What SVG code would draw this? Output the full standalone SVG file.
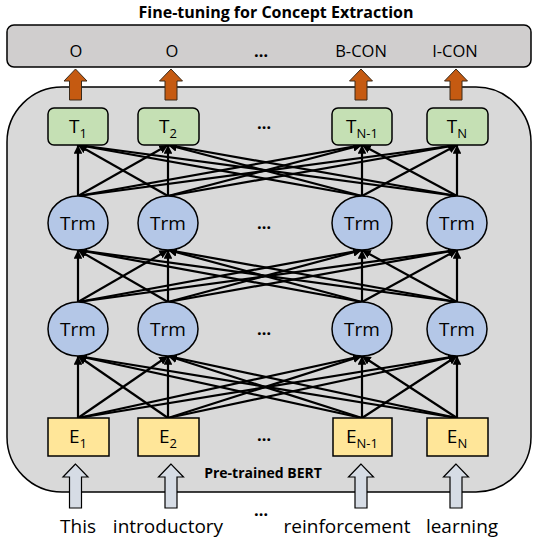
<svg xmlns="http://www.w3.org/2000/svg" xmlns:xlink="http://www.w3.org/1999/xlink" width="537" height="540" viewBox="0 0 537 540">
<defs>
<style>
text{font-family:"Open Sans","DejaVu Sans",sans-serif;fill:#000}
.lbl{font-size:16.5px;text-anchor:middle}
.node{font-size:19px;text-anchor:middle}
.sub{font-size:13px}
.bold{font-weight:bold}
.tbox{fill:#c5e0b4;stroke:#000;stroke-width:1.5}
.ebox{fill:#ffe699;stroke:#000;stroke-width:1.5}
.trm{fill:#b4c7e7;stroke:#000;stroke-width:1.5}
.conn line{stroke:#000;stroke-width:2.2;marker-end:url(#ah)}
.oarr{fill:#c55a11;stroke:#3a2a1a;stroke-width:1}
.garr{fill:#d6dce5;stroke:#000;stroke-width:1.2}
</style>
<marker id="ah" viewBox="0 0 10 10" refX="10" refY="5" markerWidth="4" markerHeight="4" orient="auto" markerUnits="strokeWidth">
<path d="M0,0 L10,5 L0,10 z" fill="#000"/>
</marker>
<path id="oa" d="M0,69 L-11.5,81 L-6,81 L-6,100 L6,100 L6,81 L11.5,81 Z"/>
<path id="ga" d="M0,464 L-12.5,477 L-6,477 L-6,508 L6,508 L6,477 L12.5,477 Z"/>
</defs>
<rect width="537" height="540" fill="#fff"/>
<text x="276" y="18" class="bold" style="font-size:16px;text-anchor:middle">Fine-tuning for Concept Extraction</text>
<g id="output-box">
<rect x="7" y="25" width="524" height="42" rx="7" fill="#d0cece" stroke="#000" stroke-width="1.5"/>
<text x="76" y="57" class="lbl">O</text>
<text x="172" y="57" class="lbl">O</text>
<text x="261" y="57" class="lbl bold">…</text>
<text x="361" y="57" class="lbl">B-CON</text>
<text x="455" y="57" class="lbl">I-CON</text>
</g>
<g id="bert">
<rect x="7" y="87" width="524" height="405" rx="55" fill="#d9d9d9" stroke="#000" stroke-width="1.5"/>
<text x="263" y="478" class="bold" style="font-size:14px;text-anchor:middle">Pre-trained BERT</text>
</g>
<g id="output-arrows">
<use xlink:href="#oa" x="75.5" class="oarr"/>
<use xlink:href="#oa" x="171" class="oarr"/>
<use xlink:href="#oa" x="361" class="oarr"/>
<use xlink:href="#oa" x="456" class="oarr"/>
</g>
<g id="connectors" class="conn">
<line x1="78" y1="418" x2="78" y2="356"/><line x1="78" y1="418" x2="168" y2="356"/><line x1="78" y1="418" x2="362" y2="356"/><line x1="78" y1="418" x2="457" y2="356"/>
<line x1="168" y1="418" x2="78" y2="356"/><line x1="168" y1="418" x2="168" y2="356"/><line x1="168" y1="418" x2="362" y2="356"/><line x1="168" y1="418" x2="457" y2="356"/>
<line x1="362" y1="418" x2="78" y2="356"/><line x1="362" y1="418" x2="168" y2="356"/><line x1="362" y1="418" x2="362" y2="356"/><line x1="362" y1="418" x2="457" y2="356"/>
<line x1="457" y1="418" x2="78" y2="356"/><line x1="457" y1="418" x2="168" y2="356"/><line x1="457" y1="418" x2="362" y2="356"/><line x1="457" y1="418" x2="457" y2="356"/>
<line x1="78" y1="302" x2="78" y2="250"/><line x1="78" y1="302" x2="168" y2="250"/><line x1="78" y1="302" x2="362" y2="250"/><line x1="78" y1="302" x2="457" y2="250"/>
<line x1="168" y1="302" x2="78" y2="250"/><line x1="168" y1="302" x2="168" y2="250"/><line x1="168" y1="302" x2="362" y2="250"/><line x1="168" y1="302" x2="457" y2="250"/>
<line x1="362" y1="302" x2="78" y2="250"/><line x1="362" y1="302" x2="168" y2="250"/><line x1="362" y1="302" x2="362" y2="250"/><line x1="362" y1="302" x2="457" y2="250"/>
<line x1="457" y1="302" x2="78" y2="250"/><line x1="457" y1="302" x2="168" y2="250"/><line x1="457" y1="302" x2="362" y2="250"/><line x1="457" y1="302" x2="457" y2="250"/>
<line x1="78" y1="196" x2="78" y2="145"/><line x1="78" y1="196" x2="168" y2="145"/><line x1="78" y1="196" x2="362" y2="145"/><line x1="78" y1="196" x2="457" y2="145"/>
<line x1="168" y1="196" x2="78" y2="145"/><line x1="168" y1="196" x2="168" y2="145"/><line x1="168" y1="196" x2="362" y2="145"/><line x1="168" y1="196" x2="457" y2="145"/>
<line x1="362" y1="196" x2="78" y2="145"/><line x1="362" y1="196" x2="168" y2="145"/><line x1="362" y1="196" x2="362" y2="145"/><line x1="362" y1="196" x2="457" y2="145"/>
<line x1="457" y1="196" x2="78" y2="145"/><line x1="457" y1="196" x2="168" y2="145"/><line x1="457" y1="196" x2="362" y2="145"/><line x1="457" y1="196" x2="457" y2="145"/>
</g>
<g id="T1"><rect x="48" y="108" width="60" height="37" rx="6" class="tbox"/><text x="78" y="133" class="node">T<tspan class="sub" dy="5">1</tspan></text></g>
<g id="T2"><rect x="138" y="108" width="61" height="37" rx="6" class="tbox"/><text x="168" y="133" class="node">T<tspan class="sub" dy="5">2</tspan></text></g>
<g id="TN-1"><rect x="332" y="108" width="60" height="37" rx="6" class="tbox"/><text x="362" y="133" class="node">T<tspan class="sub" dy="5">N-1</tspan></text></g>
<g id="TN"><rect x="427" y="108" width="61" height="37" rx="6" class="tbox"/><text x="457" y="133" class="node">T<tspan class="sub" dy="5">N</tspan></text></g>
<g id="Trm-2-1"><ellipse cx="78" cy="223" rx="30" ry="27" class="trm"/><text x="78" y="230" class="node">Trm</text></g>
<g id="Trm-2-2"><ellipse cx="168" cy="223" rx="30" ry="27" class="trm"/><text x="168" y="230" class="node">Trm</text></g>
<g id="Trm-2-N-1"><ellipse cx="362" cy="223" rx="30" ry="27" class="trm"/><text x="362" y="230" class="node">Trm</text></g>
<g id="Trm-2-N"><ellipse cx="457" cy="223" rx="30" ry="27" class="trm"/><text x="457" y="230" class="node">Trm</text></g>
<g id="Trm-1-1"><ellipse cx="78" cy="329" rx="30" ry="27" class="trm"/><text x="78" y="336" class="node">Trm</text></g>
<g id="Trm-1-2"><ellipse cx="168" cy="329" rx="30" ry="27" class="trm"/><text x="168" y="336" class="node">Trm</text></g>
<g id="Trm-1-N-1"><ellipse cx="362" cy="329" rx="30" ry="27" class="trm"/><text x="362" y="336" class="node">Trm</text></g>
<g id="Trm-1-N"><ellipse cx="457" cy="329" rx="30" ry="27" class="trm"/><text x="457" y="336" class="node">Trm</text></g>
<g id="E1"><rect x="48" y="418" width="61" height="38" class="ebox"/><text x="78" y="443" class="node">E<tspan class="sub" dy="5">1</tspan></text></g>
<g id="E2"><rect x="138" y="418" width="61" height="38" class="ebox"/><text x="168" y="443" class="node">E<tspan class="sub" dy="5">2</tspan></text></g>
<g id="EN-1"><rect x="333" y="418" width="59" height="38" class="ebox"/><text x="362" y="443" class="node">E<tspan class="sub" dy="5">N-1</tspan></text></g>
<g id="EN"><rect x="427" y="418" width="61" height="38" class="ebox"/><text x="457" y="443" class="node">E<tspan class="sub" dy="5">N</tspan></text></g>
<g id="ellipses">
<text x="264" y="129" class="lbl bold">…</text>
<text x="264" y="229" class="lbl bold">…</text>
<text x="264" y="335" class="lbl bold">…</text>
<text x="264" y="441" class="lbl bold">…</text>
<text x="261" y="516" class="lbl bold">…</text>
</g>
<g id="input-arrows">
<use xlink:href="#ga" x="75.5" class="garr"/>
<use xlink:href="#ga" x="171" class="garr"/>
<use xlink:href="#ga" x="361" class="garr"/>
<use xlink:href="#ga" x="456" class="garr"/>
</g>
<g id="inputs">
<text x="78" y="533" class="node">This</text>
<text x="168" y="533" class="node">introductory</text>
<text x="347" y="533" class="node">reinforcement</text>
<text x="462" y="533" class="node">learning</text>
</g>
</svg>
